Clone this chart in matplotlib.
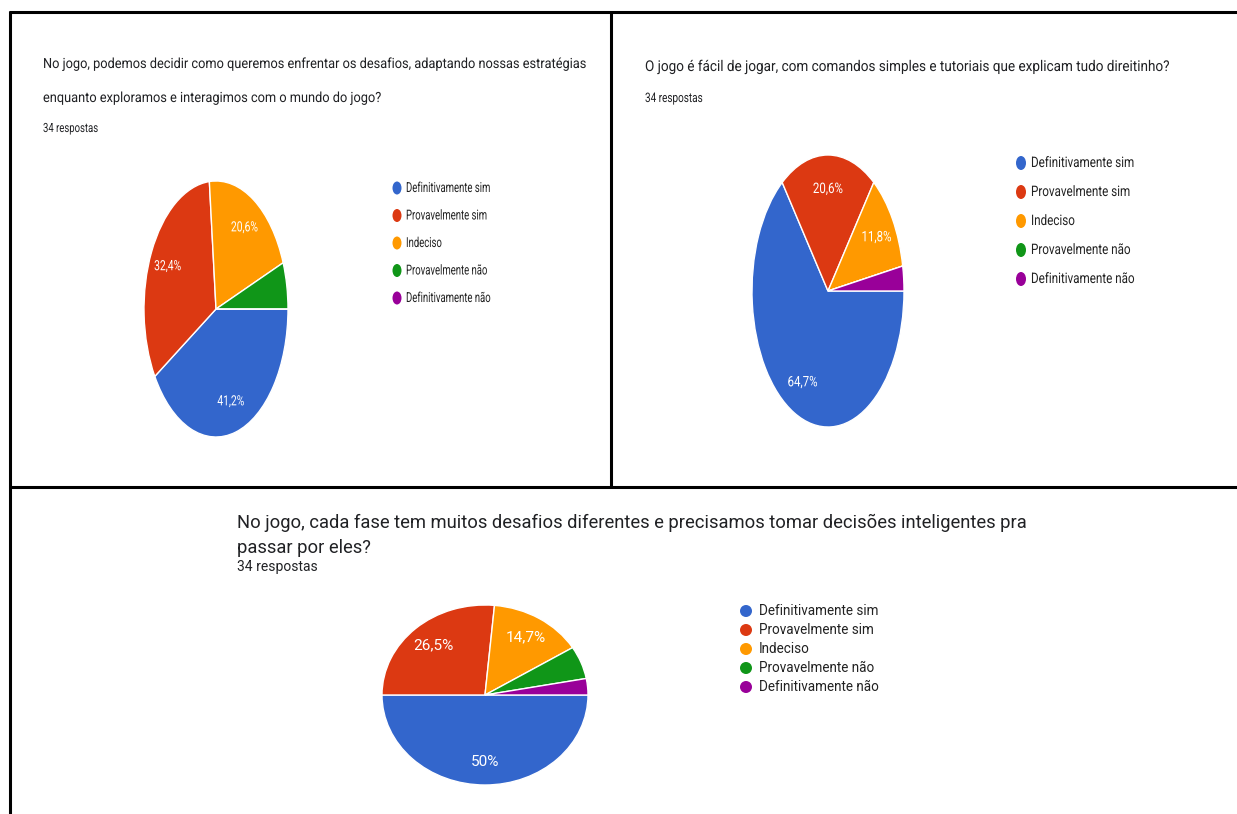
import matplotlib
matplotlib.use("Agg")
import matplotlib.pyplot as plt
from matplotlib.patches import Ellipse
from matplotlib.patheffects import AbstractPathEffect
from matplotlib.transforms import Affine2D, Bbox
from matplotlib.text import Text
from matplotlib import font_manager as fm

# ---------------- data ----------------
categories = ["Definitivamente sim", "Provavelmente sim", "Indeciso",
              "Provavelmente não", "Definitivamente não"]
colors = ["#3366CC", "#DC3912", "#FF9900", "#109618", "#990099"]

q1_title = ["No jogo, podemos decidir como queremos enfrentar os desafios, adaptando nossas estratégias",
            "enquanto exploramos e interagimos com o mundo do jogo?"]
q1_counts = [14, 11, 7, 2, 0]

q2_title = ["O jogo é fácil de jogar, com comandos simples e tutoriais que explicam tudo direitinho?"]
q2_counts = [22, 7, 4, 0, 1]

q3_title = ["No jogo, cada fase tem muitos desafios diferentes e precisamos tomar decisões inteligentes pra",
            "passar por eles?"]
q3_counts = [17, 9, 5, 2, 1]

responses_label = "34 respostas"

# ---------------- fonts ----------------
def available(name):
    try:
        fm.findfont(fm.FontProperties(family=name), fallback_to_default=False)
        return True
    except Exception:
        return False

FONT = "Roboto" if available("Roboto") else "Liberation Sans"
CAP = 0.711 if FONT == "Roboto" else 0.716

W, H = 1237, 814
DPI = 100
fig = plt.figure(figsize=(W / DPI, H / DPI), dpi=DPI)
fig.patch.set_facecolor("white")
renderer = fig.canvas.get_renderer()

ov = fig.add_axes([0, 0, 1, 1])
ov.set_xlim(0, W)
ov.set_ylim(H, 0)
ov.axis("off")


class HSqueeze(AbstractPathEffect):
    """Horizontally compress glyph outlines around a display x."""
    def __init__(self, sx, x0):
        super().__init__()
        self.sx = sx
        self.x0 = x0

    def draw_path(self, renderer, gc, tpath, affine, rgbFace=None):
        a = affine + Affine2D().translate(-self.x0, 0).scale(self.sx, 1).translate(self.x0, 0)
        renderer.draw_path(gc, tpath, a, rgbFace)


class SqueezedText(Text):
    """Text drawn horizontally condensed by factor _sx (like the screenshot's narrow type)."""
    _sx = 1.0

    def _anchor_x(self):
        return self.get_transform().transform(self.get_unitless_position())[0]

    def get_window_extent(self, renderer=None, dpi=None):
        bb = super().get_window_extent(renderer, dpi)
        if self._sx == 1.0:
            return bb
        x0 = self._anchor_x()
        return Bbox([[x0 + (bb.x0 - x0) * self._sx, bb.y0],
                     [x0 + (bb.x1 - x0) * self._sx, bb.y1]])

    def draw(self, renderer):
        if self._sx != 1.0:
            self.set_path_effects([HSqueeze(self._sx, self._anchor_x())])
        super().draw(renderer)


def make_squeezed(t, sx):
    t.__class__ = SqueezedText
    t._sx = sx
    return t


def size_for_cap(cap_px):
    return cap_px / CAP * 72 / DPI


def natural_width(s, size):
    t = ov.text(0, 0, s, fontsize=size, family=FONT)
    w = t.get_window_extent(renderer).width
    t.remove()
    return w


def group_style(ref, cap_px, target_w, squeeze=True, min_sx=0.0):
    size = size_for_cap(cap_px)
    if not squeeze:
        size = size * target_w / natural_width(ref, size)
        return size, 1.0
    sx = target_w / natural_width(ref, size)
    if sx < min_sx:
        sx = min_sx
        size = size * (target_w / sx) / natural_width(ref, size)
    return size, sx


def put(x, y, s, size, sx, color, va="baseline"):
    t = ov.text(x, y, s, fontsize=size, family=FONT, color=color, va=va, ha="left")
    return make_squeezed(t, sx)


# ---------------- borders ----------------
bk = dict(color="black", lw=2.2, solid_capstyle="butt")
ov.plot([9, W], [12, 12], **bk)
ov.plot([9, W], [486.5, 486.5], **bk)
ov.plot([10, 10], [11, H], **bk)
ov.plot([611, 611], [11, 487], **bk)


def pct_fmt(p):
    if p < 8:
        return ""
    s = f"{p:.1f}".replace(".", ",")
    if s.endswith(",0"):
        s = s[:-2]
    return s + "%"


def panel(cfg):
    sq = cfg["squeeze"]
    # titles
    ts, tsx = group_style(cfg["title"][0], cfg["title_cap"], cfg["title_w"], sq, min_sx=0.91)
    for line, yb in zip(cfg["title"], cfg["title_y"]):
        put(cfg["tx"], yb, line, ts, tsx, "#202124")
    rs, rsx = group_style(responses_label, cfg["resp_cap"], cfg["resp_w"], sq)
    put(cfg["tx"], cfg["resp_y"], responses_label, rs, rsx, "#202124")

    # pie
    cx, cy, rx, ry = cfg["pie"]
    ax = fig.add_axes([(cx - rx) / W, (H - cy - ry) / H, 2 * rx / W, 2 * ry / H])
    _, _, autotexts = ax.pie(cfg["counts"], colors=colors, startangle=0, counterclock=False,
                             autopct=pct_fmt, pctdistance=0.75,
                             wedgeprops=dict(edgecolor="white", linewidth=1.0))
    ax.set_aspect("auto")
    ax.set_xlim(-1, 1)
    ax.set_ylim(-1, 1)
    ax.axis("off")
    ls, lsx = group_style("41,2%", cfg["lab_cap"], cfg["lab_w"], sq)
    for at in autotexts:
        at.set_fontsize(ls)
        at.set_family(FONT)
        at.set_color("white")
        make_squeezed(at, lsx)

    # legend
    gs, gsx = group_style(categories[0], cfg["leg_cap"], cfg["leg_w"], sq)
    lx, ly0, dy = cfg["leg"]
    dw, dh = cfg["dot"]
    for i, (c, col) in enumerate(zip(categories, colors)):
        y = ly0 + i * dy
        ov.add_patch(Ellipse((lx, y), dw, dh, facecolor=col, edgecolor="none"))
        put(lx + cfg["leg_gap"], y, c, gs, gsx, "#222222", va="center")


panel(dict(squeeze=True, title=q1_title, title_cap=11.5, title_w=542, title_y=[68, 102], tx=43,
           resp_cap=9.0, resp_w=55, resp_y=132, counts=q1_counts, pie=(216, 309, 72, 128),
           lab_cap=10.0, lab_w=27, leg=(397, 188, 27.5), dot=(9, 13), leg_gap=9,
           leg_cap=9.8, leg_w=84))

panel(dict(squeeze=True, title=q2_title, title_cap=11.8, title_w=525, title_y=[71], tx=645,
           resp_cap=9.3, resp_w=58, resp_y=102, counts=q2_counts, pie=(828, 291, 76, 136),
           lab_cap=10.3, lab_w=30, leg=(1021, 163, 29), dot=(10, 14), leg_gap=10,
           leg_cap=10.3, leg_w=103))

panel(dict(squeeze=False, title=q3_title, title_cap=11.5, title_w=785, title_y=[528, 553], tx=237,
           resp_cap=9.0, resp_w=80, resp_y=571, counts=q3_counts, pie=(485, 695, 103, 90),
           lab_cap=9.0, lab_w=40, leg=(746, 611, 19), dot=(12, 12), leg_gap=13,
           leg_cap=9.0, leg_w=120))

fig.savefig("out.png", dpi=DPI, facecolor="white")
